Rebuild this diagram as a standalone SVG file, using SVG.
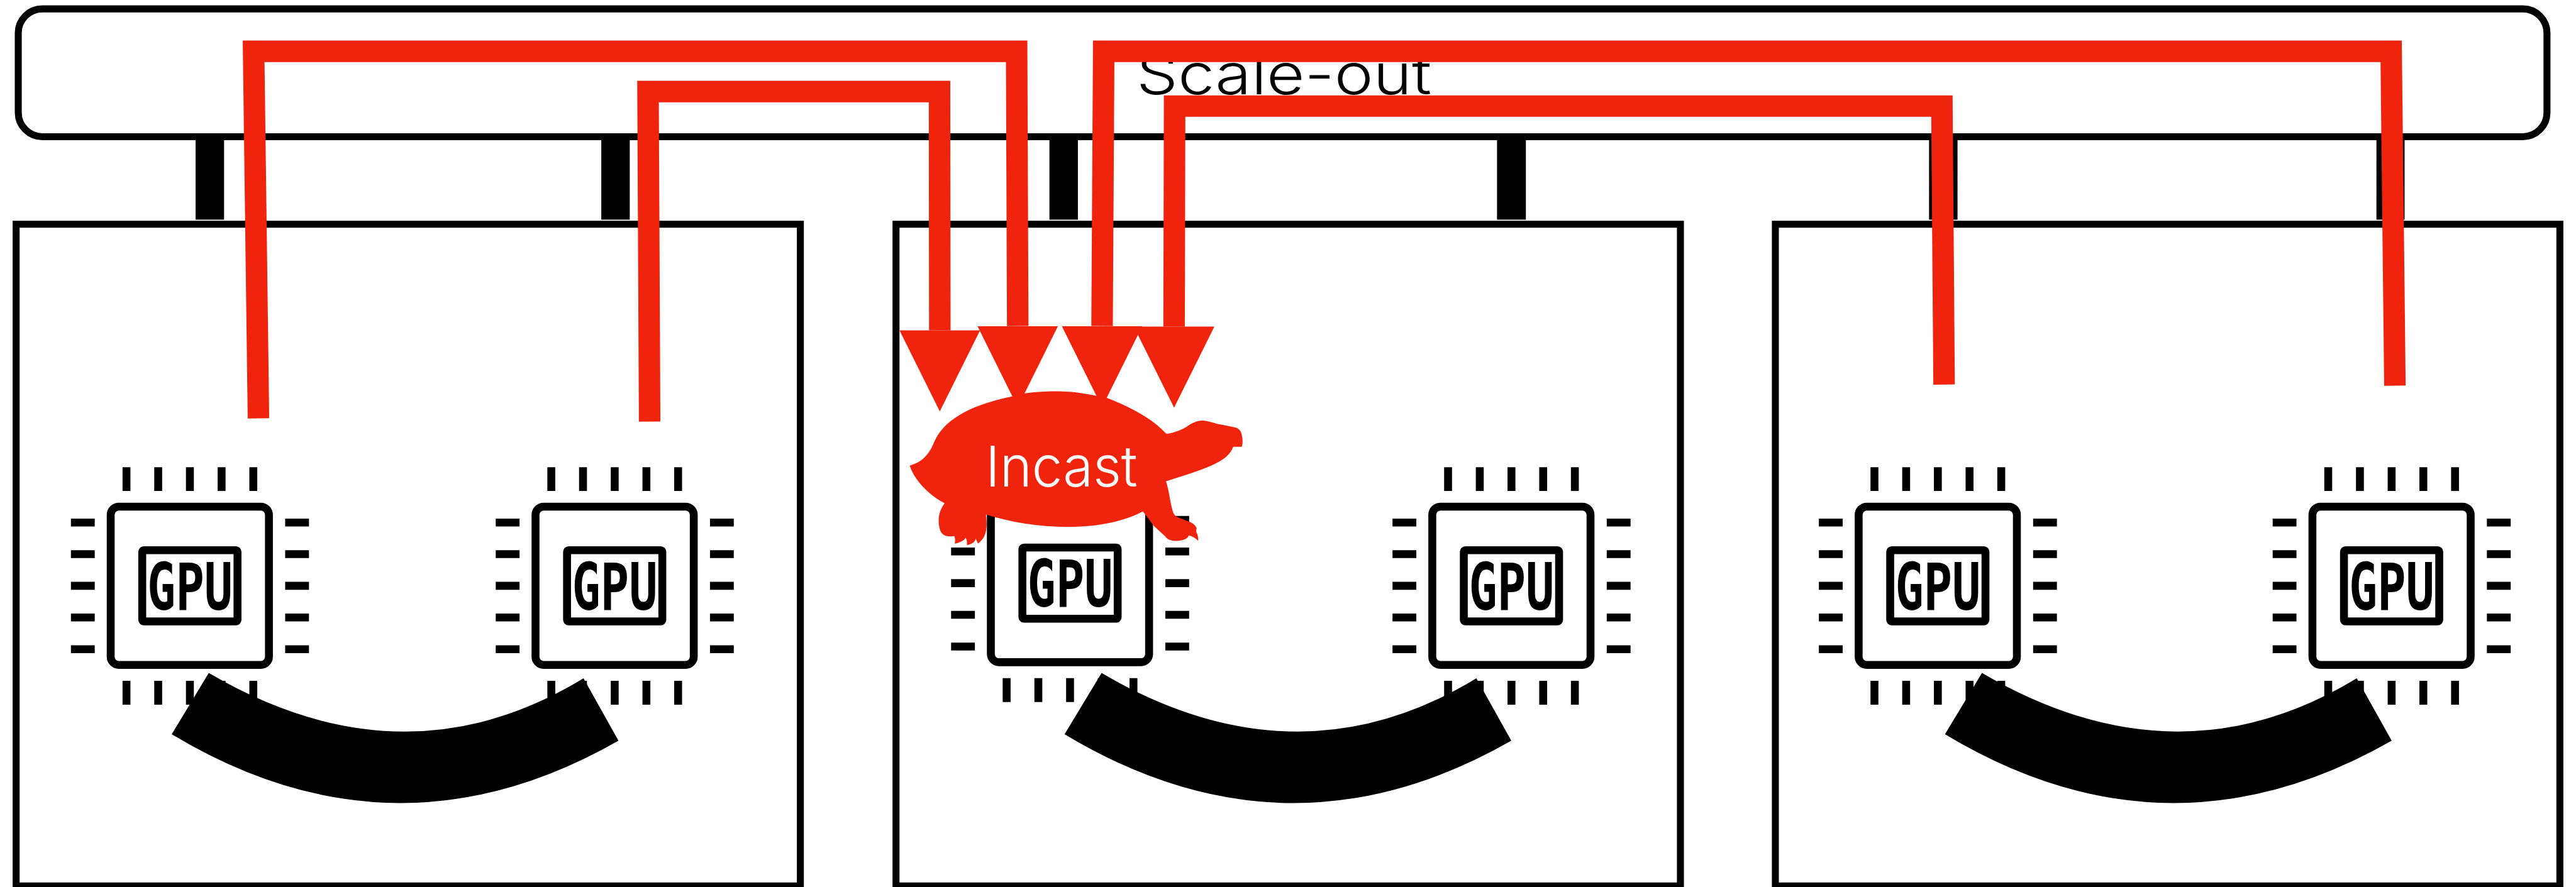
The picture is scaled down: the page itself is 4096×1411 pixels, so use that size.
<svg xmlns="http://www.w3.org/2000/svg" width="4096" height="1411" viewBox="0 0 4096 1411">
<style>
.box{fill:none;stroke:#000;stroke-width:13}
.stub{fill:#000}
.pin{fill:none;stroke:#000;stroke-width:14.7}
.body{fill:#fff;stroke:#000;stroke-width:14.7}
.link{fill:#000}
.flow{fill:none;stroke:#f0230d;stroke-width:40;stroke-linejoin:miter;stroke-miterlimit:10}
.gpu{font-family:"DejaVu Sans Mono",monospace;font-weight:700;font-size:121px;fill:#000}
.lbl{font-family:"Inter","Lato",sans-serif;font-weight:300;font-size:105px}
</style>
<defs>
<marker id="ah" markerUnits="userSpaceOnUse" markerWidth="152" markerHeight="151" refX="0" refY="75" orient="90">
<path d="M0 0L151 75L0 150z" fill="#f0230d"/>
</marker>
<g id="chip">
<path class="pin" d="M235.4 870V914M294.4 870V914M353.4 870V914M412.4 870V914M471.4 870V914M235.4 1267.5V1312M294.4 1267.5V1312M353.4 1267.5V1312M412.4 1267.5V1312M471.4 1267.5V1312M132 973H176.3M132 1031.7H176.3M132 1090.7H176.3M132 1149.7H176.3M132 1208.7H176.3M530.7 973H575M530.7 1031.7H575M530.7 1090.7H575M530.7 1149.7H575M530.7 1208.7H575"/>
<rect class="body" x="206" y="943.4" width="294.5" height="294.5" rx="15"/>
<rect class="body" x="264.7" y="1024.4" width="177.3" height="132.6" rx="3"/>
</g>
</defs>
<rect width="4096" height="1411" fill="#fff"/>
<g transform="scale(0.8544)">
<g id="scale-out">
<rect class="box" x="34" y="16.5" width="4706" height="238" rx="45"/>
<text class="lbl" x="2115" y="176" textLength="549" lengthAdjust="spacingAndGlyphs" fill="#000">Scale-out</text>
</g>
<g id="server-1"><rect class="box" x="30" y="417.5" width="1459.5" height="1232"/></g>
<g id="server-2"><rect class="box" x="1667.5" y="417.5" width="1459.8" height="1232"/></g>
<g id="server-3"><rect class="box" x="3304" y="417.5" width="1460" height="1232"/></g>
<g id="gpu-1"><use href="#chip"/><text class="gpu" x="274" y="1135" textLength="159" lengthAdjust="spacingAndGlyphs">GPU</text></g>
<g id="gpu-2" transform="translate(790.6 0)"><use href="#chip"/><text class="gpu" x="274" y="1135" textLength="159" lengthAdjust="spacingAndGlyphs">GPU</text></g>
<g id="gpu-3" transform="translate(1638 -5)"><use href="#chip"/><text class="gpu" x="274" y="1135" textLength="159" lengthAdjust="spacingAndGlyphs">GPU</text></g>
<g id="gpu-4" transform="translate(2459.5 0)"><use href="#chip"/><text class="gpu" x="274" y="1135" textLength="159" lengthAdjust="spacingAndGlyphs">GPU</text></g>
<g id="gpu-5" transform="translate(3253 0)"><use href="#chip"/><text class="gpu" x="274" y="1135" textLength="159" lengthAdjust="spacingAndGlyphs">GPU</text></g>
<g id="gpu-6" transform="translate(4097.5 0)"><use href="#chip"/><text class="gpu" x="274" y="1135" textLength="159" lengthAdjust="spacingAndGlyphs">GPU</text></g>
<g id="connectors">
<g id="uplinks">
<rect class="stub" x="364" y="255" width="53" height="154"/>
<rect class="stub" x="1119" y="255" width="53" height="154"/>
<rect class="stub" x="1953" y="255" width="53" height="154"/>
<rect class="stub" x="2786" y="255" width="53.7" height="154"/>
<rect class="stub" x="3590" y="255" width="53" height="154"/>
<rect class="stub" x="4422.6" y="255" width="52.4" height="154"/>
</g>
<g id="nvlinks">
<path class="link" d="M388.5 1253L319.6 1367Q735 1617 1151 1379L1086 1263Q752 1466 388.5 1253Z"/>
<path class="link" d="M388.5 1253L319.6 1367Q735 1617 1151 1379L1086 1263Q752 1466 388.5 1253Z" transform="translate(1661.6 0)"/>
<path class="link" d="M388.5 1253L319.6 1367Q735 1617 1151 1379L1086 1263Q752 1466 388.5 1253Z" transform="translate(3300 0)"/>
</g>
<g id="flows">
<path class="flow" marker-end="url(#ah)" d="M1209 785L1206 170.5H1748.5L1749 615"/>
<path class="flow" marker-end="url(#ah)" d="M481 779L472 95.5H1892L1894 607"/>
<path class="flow" marker-end="url(#ah)" d="M4457 718L4450 95.5H2054L2051 607"/>
<path class="flow" marker-end="url(#ah)" d="M3618 716L3614 197.5H2186L2185 608"/>
</g>
</g>
<g id="incast">
<path fill="#f0230d" d="M1693 867C1712 861 1727 852 1739 822C1755 785 1800 755 1884 738C1905 731 1935 728.7 1967 728.7C2000 728.7 2020 733 2060 741C2105 758 2145 780 2171 808C2190 804 2198 801 2212 792C2222 785 2232 783 2240 783C2255 785 2265 790 2275 791L2299 796C2306 798 2310 803 2311 810C2313 818 2313 826 2311 832L2295 832C2285 858 2255 870 2170 896C2176 916 2178 935 2182 950C2184 957 2186 960 2192 963C2210 971 2222 972 2227 983L2226 990C2229 995 2230 1000 2230 1007C2225 1002 2218 998 2212 997C2212 1003 2200 1007 2189 1007C2178 1007 2172 1004 2168 998L2148 980L2127 952C2090 972 2040 981 1988 981C1930 981 1880 972 1835 958C1838 985 1836 1000 1820 1012L1816 1003C1814 1010 1808 1013 1799.5 1015C1800 1010 1799 1005 1797.4 1001C1795 1006 1786 1011 1776.5 1012C1778 1008 1778 1003 1776 998C1760 1001 1751 995 1749 985C1745 970 1746 953 1758 937C1725 920 1700 890 1693 867Z"/>
<text class="lbl" x="1834" y="906" textLength="283" lengthAdjust="spacingAndGlyphs" fill="#fff">Incast</text>
</g>
</g>
</svg>
